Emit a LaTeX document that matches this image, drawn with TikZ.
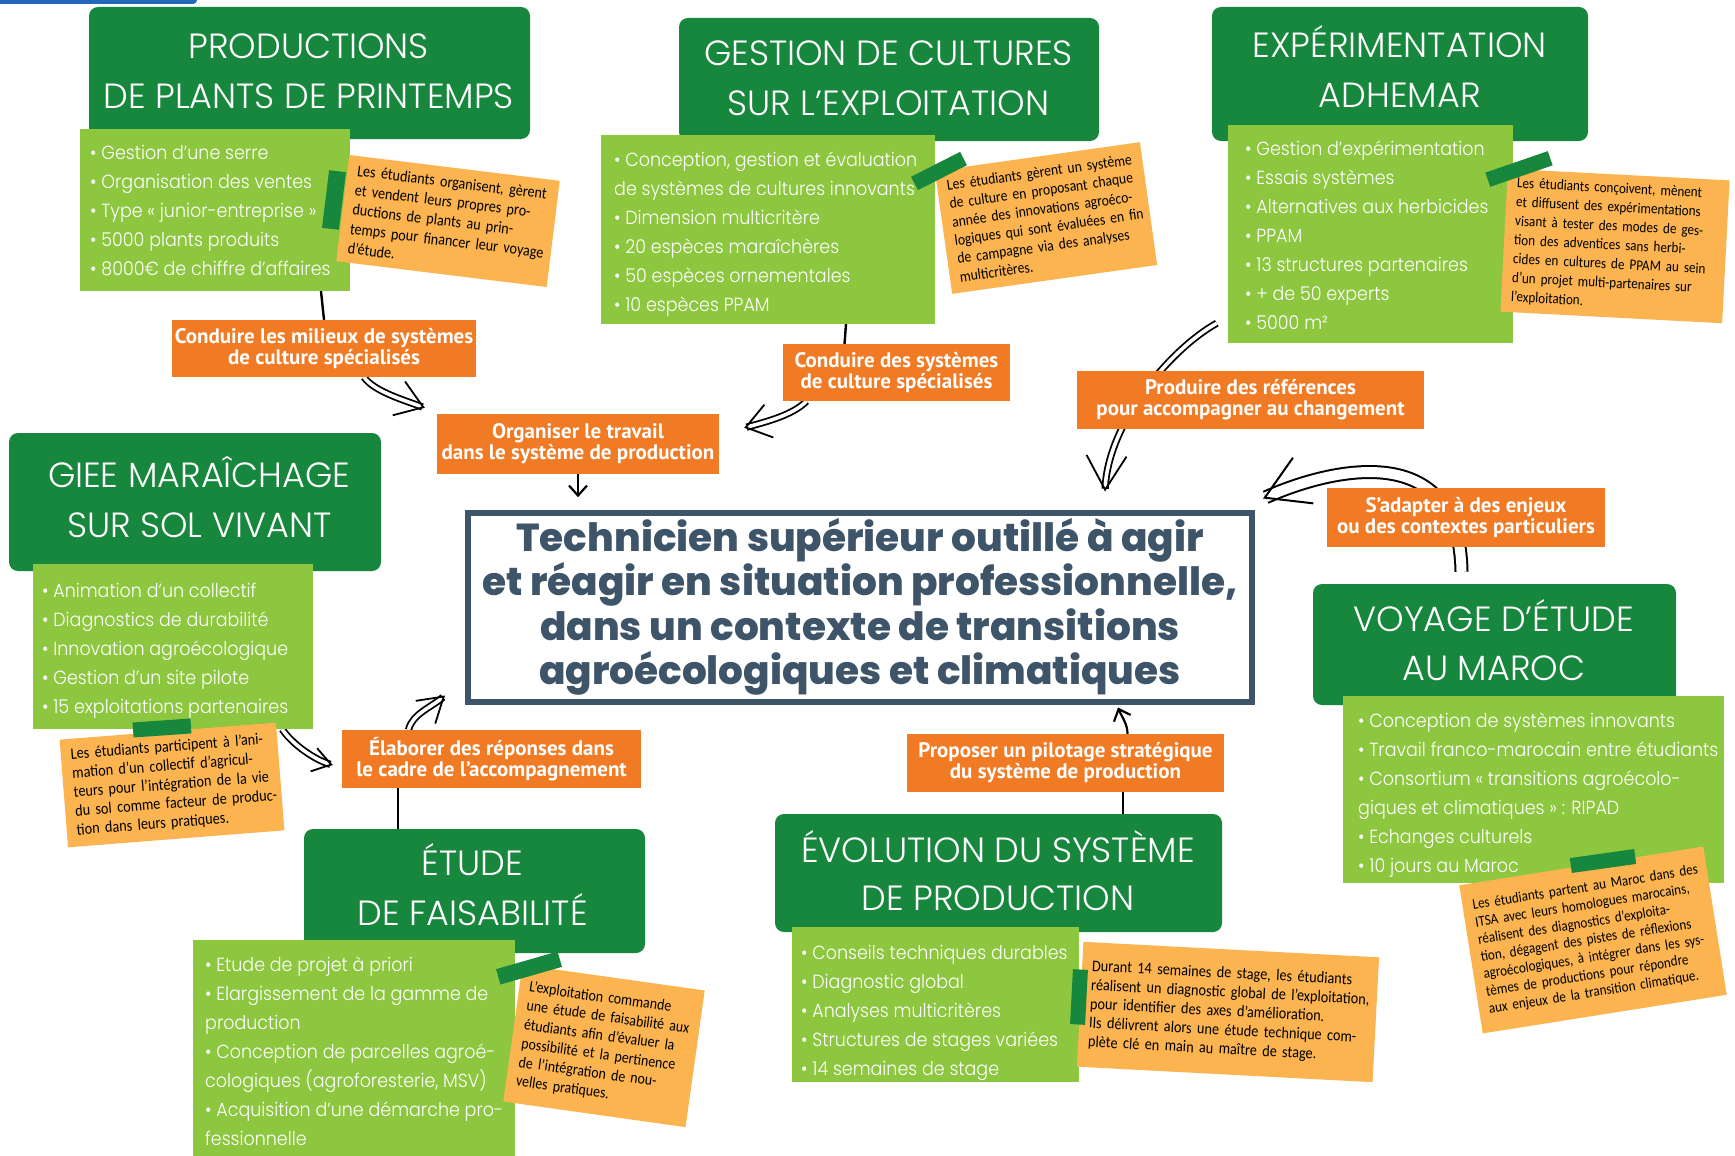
\documentclass[tikz,border=0pt]{standalone}
\usepackage{fontspec}
\usetikzlibrary{arrows.meta}
\IfFontExistsTF{Poppins Light}{%
  \newfontfamily\headfont{Poppins Light}%
  \newfontfamily\listfont{Poppins Light}[FakeStretch=0.92]}{%
  \newfontfamily\headfont{Poppins}%
  \newfontfamily\listfont{Poppins}[FakeStretch=0.92]}
\IfFontExistsTF{Poppins ExtraBold}{%
  \newfontfamily\titlefont{Poppins ExtraBold}\newcommand{\titlesize}{\fontsize{39}{44.5}\selectfont}}{%
  \newfontfamily\titlefont{Poppins}[UprightFeatures={FakeBold=0}]\newcommand{\titlesize}{\bfseries\fontsize{40}{44.5}\selectfont}}
\newfontfamily\labfont{PT Sans}
\newfontfamily\notefont{Carlito}[FakeStretch=0.88]
\definecolor{dgreen}{RGB}{24,135,62}
\definecolor{lgreen}{RGB}{141,198,63}
\definecolor{lorange}{RGB}{241,122,36}
\definecolor{nyellow}{RGB}{251,180,80}
\definecolor{slate}{RGB}{62,84,104}
\definecolor{logoblue}{RGB}{35,105,185}
\pgfdeclarelayer{bg}\pgfdeclarelayer{arr}\pgfsetlayers{bg,arr,main}
\newlength{\notew}
\newcommand{\jl}[1]{\leavevmode\hbox to \notew{#1}\\}
\begin{document}
\begin{tikzpicture}[x=1pt,y=1pt,
  headbox/.style={fill=dgreen, rounded corners=9pt, inner sep=0pt},
  headtext/.style={text=white, font=\headfont\fontsize{35}{50}\selectfont, align=center, inner sep=0pt},
  listbox/.style={fill=lgreen, inner sep=0pt},
  listtext/.style={text=white, font=\listfont\fontsize{19}{29}\selectfont, align=left, inner sep=0pt, anchor=north west},
  lab/.style={fill=lorange, text=white, font=\labfont\bfseries\fontsize{21}{21}\selectfont, align=center, inner sep=0pt},
  note/.style={fill=nyellow, inner xsep=10pt, inner ysep=4pt, align=left, text=black, text width=#1, execute at begin node={\setlength{\notew}{#1}}},
  tab/.style={fill=dgreen, inner sep=0pt},
  thinline/.style={draw=black, line width=2.4pt, line cap=round},
  thinarrow/.style={draw=black, line width=2.2pt, -{Straight Barb[length=10pt,width=18pt]}},
  dbl/.style 2 args={draw=black, line width=1.8pt, double=white, double distance=3.6pt, -{Straight Barb[length=#1,width=#2]}},
  bigdbl/.style={draw=black, line width=2pt, double=white, double distance=10pt, -{Straight Barb[length=42pt,width=50pt]}}
]
\useasboundingbox (0,0) rectangle (1735,-1156);
\begin{pgfonlayer}{bg}\fill[white] (0,0) rectangle (1735,-1156);\end{pgfonlayer}
\fill[logoblue, rounded corners=4pt] (-10,10) rectangle (197,-4);

% header boxes
\node[headbox, minimum width=441pt, minimum height=132pt] (hb1) at (309.5,-73) {};
\node[headbox, minimum width=420pt, minimum height=123pt] (hb2) at (889,-79.5) {};
\node[headbox, minimum width=376pt, minimum height=134pt] (hb3) at (1400,-74) {};
\node[headbox, minimum width=372pt, minimum height=138pt] (hb4) at (195,-502) {};
\node[headbox, minimum width=341pt, minimum height=124pt] (hb5) at (474.5,-891) {};
\node[headbox, minimum width=447pt, minimum height=118pt] (hb6) at (998.5,-873) {};
\node[headbox, minimum width=363pt, minimum height=121pt] (hb7) at (1494.5,-644.5) {};
% header texts
\node[headtext] (h1) at (308.7,-70.8) {PRODUCTIONS\\DE PLANTS DE PRINTEMPS};
\node[headtext] (h2) at (888.5,-78) {GESTION DE CULTURES\\SUR L’EXPLOITATION};
\node[headtext] (h3) at (1399.7,-66.8) {EXPÉRIMENTATION\\ADHEMAR};
\node[headtext] (h4) at (199.2,-497.2) {GIEE MARAÎCHAGE\\SUR SOL VIVANT};
\node[headtext] (h5) at (472.5,-884.5) {ÉTUDE\\DE FAISABILITÉ};
\node[headtext, font=\headfont\fontsize{35}{48.5}\selectfont] (h6) at (998,-870.6) {ÉVOLUTION DU SYSTÈME\\DE PRODUCTION};
\node[headtext, font=\headfont\fontsize{35}{48.5}\selectfont] (h7) at (1493.8,-639.9) {VOYAGE D’ÉTUDE\\AU MAROC};

% list boxes
\node[listbox, minimum width=270pt, minimum height=162pt] (l1) at (215,-210) {};
\node[listbox, minimum width=334pt, minimum height=189pt] (l2) at (768,-229.5) {};
\node[listbox, minimum width=285pt, minimum height=218pt] (l3) at (1370.5,-234) {};
\node[listbox, minimum width=280pt, minimum height=165pt] (l4) at (173,-646.5) {};
\node[listbox, minimum width=322pt, minimum height=230pt] (l5) at (354,-1055) {};
\node[listbox, minimum width=287pt, minimum height=155pt] (l6) at (935.5,-1004.5) {};
\node[listbox, minimum width=381pt, minimum height=187pt] (l7) at (1533.5,-789.5) {};

\node[listtext] (t1) at (90,-145) {• Gestion d’une serre\\• Organisation des ventes\\• Type « junior-entreprise »\\• 5000 plants produits\\• 8000€ de chiffre d’affaires};
\node[listtext] (t2) at (614,-152) {• Conception, gestion et évaluation\\de systèmes de cultures innovants\\• Dimension multicritère\\• 20 espèces maraîchères\\• 50 espèces ornementales\\• 10 espèces PPAM};
\node[listtext] (t3) at (1245,-141) {• Gestion d’expérimentation\\• Essais systèmes\\• Alternatives aux herbicides\\• PPAM\\• 13 structures partenaires\\• + de 50 experts\\• 5000 m²};
\node[listtext] (t4) at (42,-583) {• Animation d’un collectif\\• Diagnostics de durabilité\\• Innovation agroécologique\\• Gestion d’un site pilote\\• 15 exploitations partenaires};
\node[listtext] (t5) at (205,-957) {• Etude de projet à priori\\• Elargissement de la gamme de\\production\\• Conception de parcelles agroé-\\cologiques (agroforesterie, MSV)\\• Acquisition d’une démarche pro-\\fessionnelle};
\node[listtext] (t6) at (801,-945) {• Conseils techniques durables\\• Diagnostic global\\• Analyses multicritères\\• Structures de stages variées\\• 14 semaines de stage};
\node[listtext] (t7) at (1358,-713) {• Conception de systèmes innovants\\• Travail franco-marocain entre étudiants\\• Consortium « transitions agroécolo-\\giques et climatiques » : RIPAD\\• Echanges culturels\\• 10 jours au Maroc};

% notes
\node[note=192pt, minimum height=107pt, rotate=-7, font=\notefont\fontsize{16.1}{19.5}\selectfont] (n1) at (448,-221) {\jl{Les étudiants organisent, gèrent}\jl{et vendent leurs propres pro-}\jl{ductions de plants au prin-}\jl{temps pour financer leur voyage}d’étude.};
\node[note=187pt, minimum height=124pt, rotate=8, font=\notefont\fontsize{15.5}{18.5}\selectfont] (n2) at (1046,-218) {\jl{Les étudiants gèrent un système}\jl{de culture en proposant chaque}\jl{année des innovations agroéco-}\jl{logiques qui sont évaluées en fin}\jl{de campagne via des analyses}multicritères.};
\node[note=202pt, minimum height=143pt, rotate=-3, font=\notefont\fontsize{14.9}{19}\selectfont] (n3) at (1615,-246) {\jl{Les étudiants conçoivent, mènent}\jl{et diffusent des expérimentations}\jl{visant à tester des modes de ges-}\jl{tion des adventices sans herbi-}\jl{cides en cultures de PPAM au sein}\jl{d’un projet multi-partenaires sur}l’exploitation.};
\node[note=197pt, minimum height=108pt, rotate=4.5, font=\notefont\fontsize{16.2}{19}\selectfont] (n4) at (172,-785) {\jl{Les étudiants participent à l’ani-}\jl{mation d’un collectif d’agricul-}\jl{teurs pour l’intégration de la vie}\jl{du sol comme facteur de produc-}tion dans leurs pratiques.};
\node[note=164pt, minimum height=138pt, rotate=-8, font=\notefont\fontsize{15.8}{19}\selectfont] (n5) at (604,-1046) {\jl{L’exploitation commande}\jl{une étude de faisabilité aux}\jl{étudiants afin d’évaluer la}\jl{possibilité et la pertinence}\jl{de l’intégration de nou-}velles pratiques.};
\node[note=276pt, minimum height=125pt, rotate=-3, font=\notefont\fontsize{16.2}{19}\selectfont] (n6) at (1228,-1012) {\jl{Durant 14 semaines de stage, les étudiants}\jl{réalisent un diagnostic global de l’exploitation,}pour identifier des axes d’amélioration.\\\jl{Ils délivrent alors une étude technique com-}plète clé en main au maître de stage.};
\node[note=227pt, minimum height=150pt, rotate=9, font=\notefont\fontsize{14.9}{17.5}\selectfont] (n7) at (1593,-940) {\jl{Les étudiants partent au Maroc dans des}\jl{ITSA avec leurs homologues marocains,}\jl{réalisent des diagnostics d’exploita-}\jl{tion, dégagent des pistes de réflexions}\jl{agroécologiques, à intégrer dans les sys-}\jl{tèmes de productions pour répondre}aux enjeux de la transition climatique.};

% tabs
\node[tab, minimum width=17pt, minimum height=58pt, rotate=-7] (k1) at (334,-200) {};
\node[tab, minimum width=55pt, minimum height=15pt, rotate=27] (k2) at (939,-171) {};
\node[tab, minimum width=66pt, minimum height=15pt, rotate=19] (k3) at (1519,-169) {};
\node[tab, minimum width=58pt, minimum height=15pt, rotate=4] (k4) at (162,-728) {};
\node[tab, minimum width=64pt, minimum height=16pt, rotate=16] (k5) at (529,-968) {};
\node[tab, minimum width=15pt, minimum height=55pt, rotate=-3] (k6) at (1079,-997) {};
\node[tab, minimum width=65pt, minimum height=15pt, rotate=8] (k7) at (1603,-861) {};

% labels
\node[lab, minimum width=304pt, minimum height=57pt] (lab1) at (324,-348.5) {Conduire les milieux de systèmes\\de culture spécialisés};
\node[lab, minimum width=282pt, minimum height=60pt] (org) at (578,-444) {Organiser le travail\\dans le système de production};
\node[lab, minimum width=227pt, minimum height=57pt] (lab2) at (896.5,-372.5) {Conduire des systèmes\\de culture spécialisés};
\node[lab, minimum width=347pt, minimum height=58pt] (lab3) at (1250.5,-400) {Produire des références\\pour accompagner au changement};
\node[lab, minimum width=278pt, minimum height=59pt] (lab4) at (1466,-517.5) {S’adapter à des enjeux\\ou des contextes particuliers};
\node[lab, minimum width=299pt, minimum height=58pt] (lab5) at (491.5,-759) {Élaborer des réponses dans\\le cadre de l’accompagnement};
\node[lab, minimum width=317pt, minimum height=58pt] (lab6) at (1065.5,-763) {Proposer un pilotage stratégique\\du système de production};

% central box
\node[draw=slate, line width=6pt, minimum width=784pt, minimum height=189pt, inner sep=0pt, text=slate, font=\titlefont\titlesize, align=center] (cbox) at (860,-607) {Technicien supérieur outillé à agir\\et réagir en situation professionnelle,\\dans un contexte de transitions\\agroécologiques et climatiques};

% connectors
\begin{pgfonlayer}{arr}
\draw[thinline] ([xshift=106pt]l1.south) -- (lab1.north);
\draw[dbl={26pt}{36pt}] ([xshift=40pt]lab1.south) .. controls +(10,-14) and +(-22,8) .. ([shift={(-12pt,6pt)}]org.north west);
\draw[thinarrow] (org.south) -- ++(0,-23);
\draw[thinline] ([xshift=78pt]l2.south) -- ([xshift=-52pt]lab2.north);
\draw[dbl={24pt}{34pt}] ([xshift=-90pt]lab2.south) .. controls +(-14,-14) and +(22,6) .. ([shift={(25pt,-14pt)}]org.north east);
\draw[dbl={34pt}{40pt}] ([shift={(-11pt,20pt)}]l3.south west) .. controls +(-45,-25) and +(3,70) .. ([shift={(245pt,18pt)}]cbox.north);
\draw[bigdbl] ([shift={(-33pt,12pt)}]hb7.north) .. controls +(-2,135) and +(67,30) .. ([shift={(8pt,11pt)}]cbox.north east);
\draw[dbl={18pt}{24pt}] ([xshift=-31pt]l4.south east) .. controls +(10,-15) and +(-18,5) .. ([shift={(-9pt,-6pt)}]lab5.west);
\draw[thinline] ([xshift=-76.5pt]hb5.north) -- ([xshift=-93.5pt]lab5.south);
\draw[dbl={24pt}{30pt}] ([xshift=-83pt]lab5.north) .. controls +(4,16) and +(-14,-12) .. ([shift={(-20pt,9pt)}]cbox.south west);
\draw[thinline] ([xshift=124.5pt]hb6.north) -- ([xshift=57.5pt]lab6.south);
\draw[thinarrow] ([xshift=62pt]lab6.north) .. controls +(0,10) and +(4,-10) .. ([shift={(258pt,-3pt)}]cbox.south);
\end{pgfonlayer}
\end{tikzpicture}
\end{document}
